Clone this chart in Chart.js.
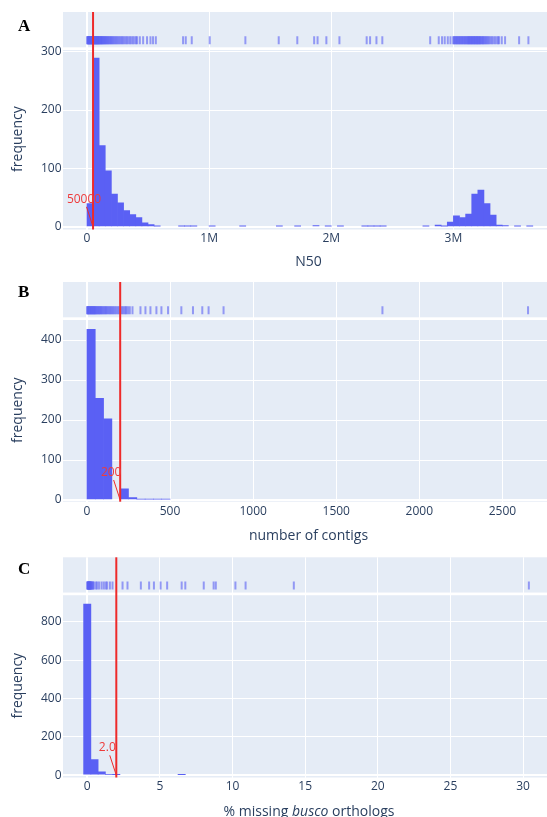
<!DOCTYPE html>
<html>
<head>
<meta charset="utf-8">
<script src="https://cdn.jsdelivr.net/npm/chart.js@4.4.1/dist/chart.umd.min.js"></script>
<style>
  html, body { margin: 0; padding: 0; background: #fff; overflow: hidden; }
  #page { position: relative; width: 547px; height: 817px; overflow: hidden; }
  #page canvas { position: absolute; left: 0; }
  .letter { position: absolute; left: 18px; font: bold 17px 'Liberation Serif', 'DejaVu Serif', serif; line-height: 17px; color: #000; }
  .xtitle { position: absolute; left: 0; width: 618px; text-align: center; font: 14px 'Open Sans', sans-serif; line-height: 16.8px; color: #2a3f5f; white-space: nowrap; }
</style>
</head>
<body>
<div id="page">
  <canvas id="chartA" width="560" height="270" style="top:0px"></canvas>
  <canvas id="chartB" width="560" height="275" style="top:270px"></canvas>
  <canvas id="chartC" width="560" height="275" style="top:545px"></canvas>
  <div class="letter" style="top:17px">A</div>
  <div class="letter" style="top:283px">B</div>
  <div class="letter" style="top:560px">C</div>
  <div class="xtitle" style="top:803px">% missing <i>busco</i> orthologs</div>
</div>
<script>
// --- A: N50 (kb), 50 kb bins ---
const n50BinStartsKb = [0, 50, 100, 150, 200, 250, 300, 350, 400, 450, 500, 550,
  750, 800, 850, 1000, 1250, 1550, 1700, 1850, 1950, 2050, 2250, 2300, 2350, 2400,
  2750, 2850, 2900, 2950, 3000, 3050, 3100, 3150, 3200, 3250, 3300, 3350, 3400, 3500, 3600];
const n50Counts = [40, 289, 139, 96, 56, 41, 28, 21, 16, 7, 4, 1,
  1, 1, 1, 1, 1, 1, 1, 2, 1, 1, 1, 1, 1, 1,
  1, 3, 1, 8, 19, 16, 22, 56, 63, 40, 20, 3, 2, 1, 1];
// one tick per assembly; the low and high clusters are saturated in the picture
const n50RugKb = [2, 5, 8, 11, 14, 17, 20, 23, 26, 29, 32, 35, 38, 41, 44, 47, 50, 53, 56, 59,
  62, 65, 68, 71, 74, 77, 80, 83, 86, 89, 92, 95, 98, 102, 106, 110, 114, 118, 122, 126, 130,
  135, 140, 145, 150, 155, 160, 166, 172, 178, 184, 190, 197, 204, 211, 218, 226, 234, 242,
  250, 259, 268, 277, 287, 297, 307, 318, 329, 340, 352, 364, 376, 389, 402,
  411, 433, 460, 492, 520, 541, 564, 787, 809, 858, 1005, 1297, 1570, 1722, 1860, 1888, 1960,
  2067, 2290, 2318, 2370, 2418, 2810, 2880, 2907, 2929, 2954, 2976, 2998,
  3005, 3011, 3017, 3023, 3029, 3035, 3041, 3047, 3053, 3059, 3065, 3071, 3077, 3083, 3089,
  3095, 3101, 3107, 3113, 3118, 3123, 3128, 3133, 3138, 3143, 3148, 3153, 3158, 3163, 3168,
  3173, 3178, 3183, 3188, 3193, 3198, 3203, 3208, 3213, 3218, 3224, 3230, 3236, 3242, 3248,
  3255, 3262, 3269, 3277, 3285, 3294, 3304, 3315, 3327, 3340, 3354, 3366, 3374,
  3396, 3423, 3538, 3614];
const n50Ticks = [0, 1000000, 2000000, 3000000];
const n50TickLabels = ['0', '1M', '2M', '3M'];
const n50FreqTicks = [0, 100, 200, 300];

// --- B: number of contigs, bins of 50 ---
const contigBinStarts = [0, 50, 100, 200, 250, 300, 350, 400, 450];
const contigCounts = [427, 254, 203, 28, 6, 2, 2, 2, 2];
const contigRug = [1, 3, 6, 8, 11, 14, 17, 20, 23, 26, 29, 32, 35, 38, 41, 44, 47, 50, 53, 57,
  61, 65, 69, 73, 77, 81, 85, 90, 95, 100, 105, 110, 115, 120, 126, 132, 138, 144, 150, 157,
  164, 171, 178, 186, 194, 202, 210, 218, 226, 233, 238,
  248, 258, 274, 322, 352, 382, 418, 448, 488, 568, 638, 694, 732, 822, 1778, 2654];
const contigTicks = [0, 500, 1000, 1500, 2000, 2500];
const contigFreqTicks = [0, 100, 200, 300, 400];

// --- C: % missing busco orthologs, bins of 0.5 ---
const buscoBinStarts = [-0.25, 0.25, 0.75, 1.25, 1.75, 6.25];
const buscoCounts = [892, 82, 18, 4, 3, 3];
const buscoRug = [0, 0.02, 0.04, 0.06, 0.08, 0.1, 0.12, 0.14, 0.16, 0.18, 0.2, 0.22, 0.25,
  0.28, 0.31, 0.35, 0.4, 0.46, 0.6, 0.69, 0.82, 0.99, 1.14, 1.28, 1.37, 1.56, 1.74, 2.43, 2.77,
  3.69, 4.26, 4.59, 5.05, 5.5, 6.5, 6.75, 8.02, 8.7, 8.85, 10.2, 10.9, 14.22, 30.4];
const buscoTicks = [0, 5, 10, 15, 20, 25, 30];
const buscoFreqTicks = [0, 200, 400, 600, 800];

const BAR_COLOR = '#5a60f4';
const RUG_COLOR = 'rgba(90, 96, 244, 0.6)';
const PLOT_BG = '#E5ECF6';
const TEXT = '#2a3f5f';
const RED = '#ee2a2a';

Chart.defaults.font.family = "'Open Sans', sans-serif";
Chart.defaults.color = TEXT;

// plotly-like backgrounds for the rug strip and histogram, white gap between
const splitBackground = {
    id: 'splitBackground',
    beforeDraw(chart) {
        const { ctx, chartArea, scales } = chart;
        const gap = 1.35;
        ctx.save();
        ctx.fillStyle = PLOT_BG;
        ctx.fillRect(chartArea.left, scales.yRug.top, chartArea.width, scales.yRug.bottom - scales.yRug.top - gap);
        ctx.fillRect(chartArea.left, scales.y.top + gap, chartArea.width, scales.y.bottom - scales.y.top - gap);
        ctx.restore();
    }
};

// vertical cut-off line plus its arrow annotation
const thresholdMarker = {
    id: 'thresholdMarker',
    afterDatasetsDraw(chart, args, opts) {
        const { ctx, chartArea, scales: { x, y } } = chart;
        const px = x.getPixelForValue(opts.value);
        const py = y.getPixelForValue(0);
        const ax = -9, ay = -27.5;
        ctx.save();
        ctx.strokeStyle = RED;
        ctx.lineWidth = 2;
        ctx.beginPath();
        ctx.moveTo(px, chartArea.top);
        ctx.lineTo(px, chartArea.bottom);
        ctx.stroke();

        const t = 7.5 / -ay;
        ctx.lineWidth = 1;
        ctx.beginPath();
        ctx.moveTo(px + ax * (1 - t), py + ay * (1 - t));
        ctx.lineTo(px, py);
        ctx.stroke();

        ctx.font = "12px 'Open Sans'";
        ctx.fillStyle = '#ee3b3b';
        ctx.textAlign = 'center';
        ctx.textBaseline = 'middle';
        ctx.fillText(opts.label, px + ax, py + ay);
        ctx.restore();
    }
};

function buildPanel(canvasId, p) {
    const rugH = p.mid - p.top;
    const histH = p.bottom - p.mid;
    const fixedTicks = list => scale => { scale.ticks = list.map(v => ({ value: v })); };

    return new Chart(document.getElementById(canvasId), {
        type: 'bar',
        data: {
            datasets: [{
                type: 'bar',
                data: p.bins.map((b, i) => ({ x: b + p.binWidth / 2, y: p.counts[i] })),
                backgroundColor: BAR_COLOR,
                borderWidth: 0,
                barPercentage: 1,
                categoryPercentage: 1,
                yAxisID: 'y',
                order: 2
            }, {
                type: 'scatter',
                data: p.rug.map(v => ({ x: v, y: 0 })),
                yAxisID: 'yRug',
                pointStyle: 'line',
                pointRotation: 90,
                pointRadius: 4,
                pointBorderWidth: 2,
                pointBorderColor: RUG_COLOR,
                pointBackgroundColor: RUG_COLOR,
                order: 1
            }]
        },
        options: {
            responsive: false,
            animation: false,
            events: [],
            layout: { padding: { top: p.top, right: 5, left: 0, bottom: 0 } },
            plugins: {
                legend: { display: false },
                tooltip: { enabled: false },
                thresholdMarker: { value: p.threshold, label: p.thresholdLabel }
            },
            scales: {
                x: {
                    type: 'linear',
                    min: p.xMin,
                    max: p.xMax,
                    offset: false,
                    afterBuildTicks: fixedTicks(p.xTicks),
                    afterFit: s => { s.height = p.canvasH - p.bottom; },
                    grid: {
                        color: '#ffffff',
                        lineWidth: c => (c.tick && c.tick.value === 0) ? 2 : 1,
                        drawTicks: false,
                        offset: false
                    },
                    border: { display: false },
                    ticks: {
                        autoSkip: false,
                        maxRotation: 0,
                        padding: p.xTickPad,
                        font: { size: 12 },
                        callback: (v, i) => p.xTickLabels[i]
                    },
                    title: {
                        display: !!p.xTitle,
                        text: p.xTitle || '',
                        font: { size: 14 },
                        padding: { top: 0, bottom: p.xTitlePad }
                    }
                },
                y: {
                    type: 'linear',
                    position: 'left',
                    stack: 'panel',
                    stackWeight: histH,
                    weight: 0,
                    min: p.yMin,
                    max: p.yMax,
                    afterBuildTicks: fixedTicks(p.yTicks),
                    afterFit: s => { s.width = 63; },
                    grid: {
                        color: '#ffffff',
                        lineWidth: c => (c.tick && c.tick.value === 0) ? 2 : 1,
                        drawTicks: false
                    },
                    border: { display: false },
                    ticks: { padding: 1.5, font: { size: 12 } },
                    title: { display: true, text: 'frequency', font: { size: 14 }, padding: { top: 9.5, bottom: 0 } }
                },
                yRug: {
                    type: 'linear',
                    position: 'left',
                    stack: 'panel',
                    stackWeight: rugH,
                    weight: 1,
                    min: -0.3,
                    max: 1,
                    afterFit: s => { s.width = 63; },
                    grid: { display: false },
                    border: { display: false },
                    ticks: { display: false }
                }
            }
        },
        plugins: [splitBackground, thresholdMarker]
    });
}

buildPanel('chartA', {
    bins: n50BinStartsKb.map(k => k * 1000), counts: n50Counts, binWidth: 50000,
    rug: n50RugKb.map(k => k * 1000),
    xMin: -196000, xMax: 3823500, xTicks: n50Ticks, xTickLabels: n50TickLabels,
    yMin: -4.6, yMax: 305.2, yTicks: n50FreqTicks,
    threshold: 50000, thresholdLabel: '50000', xTitle: 'N50',
    canvasH: 270, top: 12, mid: 48.65, bottom: 229.5, xTickPad: 1.7, xTitlePad: 0
});

buildPanel('chartB', {
    bins: contigBinStarts, counts: contigCounts, binWidth: 50,
    rug: contigRug,
    xMin: -144.1, xMax: 2810.3, xTicks: contigTicks, xTickLabels: contigTicks.map(String),
    yMin: -4.25, yMax: 453.4, yTicks: contigFreqTicks,
    threshold: 200, thresholdLabel: '200', xTitle: 'number of contigs',
    canvasH: 275, top: 12, mid: 48.65, bottom: 231.7, xTickPad: 2.7, xTitlePad: 0.9
});

buildPanel('chartC', {
    bins: buscoBinStarts, counts: buscoCounts, binWidth: 0.5,
    rug: buscoRug,
    xMin: -1.669, xMax: 32.13, xTicks: buscoTicks, xTickLabels: buscoTicks.map(String),
    yMin: -11.5, yMax: 944.8, yTicks: buscoFreqTicks,
    threshold: 2.0, thresholdLabel: '2.0', xTitle: null,
    canvasH: 275, top: 12.3, mid: 48.9, bottom: 232.5, xTickPad: 1.6, xTitlePad: 0
});
</script>
</body>
</html>
